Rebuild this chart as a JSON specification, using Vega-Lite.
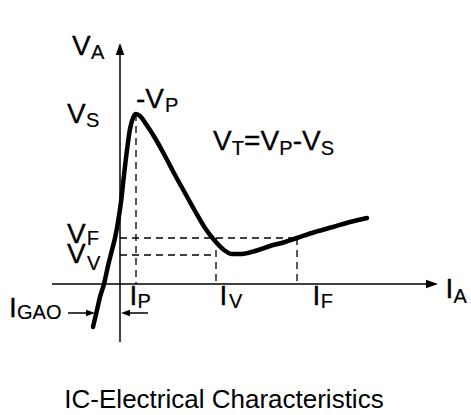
{
  "$schema": "https://vega.github.io/schema/vega-lite/v6.json",
  "width": 471,
  "height": 415,
  "autosize": {"type": "none"},
  "padding": 0,
  "background": "white",
  "config": {"view": {"stroke": null}, "text": {"font": "Liberation Sans", "color": "black"}},
  "datasets": {
    "curve": [
      {"x": -27, "y": -43}, {"x": -23, "y": -26}, {"x": -20, "y": -13}, {"x": -16, "y": 0},
      {"x": -12, "y": 18}, {"x": -8, "y": 34}, {"x": -5, "y": 46}, {"x": -2, "y": 62},
      {"x": 1, "y": 82}, {"x": 4, "y": 109}, {"x": 7, "y": 134}, {"x": 10, "y": 155},
      {"x": 13, "y": 166}, {"x": 16, "y": 170}, {"x": 20, "y": 168}, {"x": 26, "y": 160},
      {"x": 35, "y": 146}, {"x": 45, "y": 128}, {"x": 55, "y": 109}, {"x": 65, "y": 91},
      {"x": 75, "y": 73}, {"x": 85, "y": 56}, {"x": 95, "y": 43}, {"x": 104, "y": 34},
      {"x": 112, "y": 30}, {"x": 122, "y": 30}, {"x": 135, "y": 33}, {"x": 150, "y": 38},
      {"x": 165, "y": 42}, {"x": 177, "y": 46}, {"x": 195, "y": 52}, {"x": 213, "y": 57},
      {"x": 230, "y": 62}, {"x": 247, "y": 66}
    ],
    "axes": [
      {"x1": -68, "y1": 0, "x2": 316, "y2": 0},
      {"x1": 0, "y1": -58, "x2": 0, "y2": 236},
      {"x1": -52, "y1": -29, "x2": -28, "y2": -29},
      {"x1": 4, "y1": -29, "x2": 28, "y2": -29}
    ],
    "guides": [
      {"x1": 16, "y1": 170, "x2": 16, "y2": 0},
      {"x1": 0, "y1": 46, "x2": 177, "y2": 46},
      {"x1": 0, "y1": 29, "x2": 96, "y2": 29},
      {"x1": 96, "y1": 46, "x2": 96, "y2": 0},
      {"x1": 177, "y1": 46, "x2": 177, "y2": 0}
    ],
    "heads": [
      {"x": 0, "y": 235, "dir": "up", "kind": "axis"},
      {"x": 312, "y": 0, "dir": "right", "kind": "axis"},
      {"x": -29.5, "y": -29, "dir": "right", "kind": "small"},
      {"x": 5.5, "y": -29, "dir": "left", "kind": "small"}
    ],
    "labels": [
      {"x": -48, "y": 229, "text": "V"},
      {"x": -53, "y": 161, "text": "V"},
      {"x": 16, "y": 176, "text": "-V"},
      {"x": 93, "y": 134, "text": "V"},
      {"x": 124, "y": 134, "text": "="},
      {"x": 140.5, "y": 134, "text": "V"},
      {"x": 172.7, "y": 134, "text": "-V"},
      {"x": -111, "y": -33, "text": "I"},
      {"x": 9.4, "y": -21, "text": "I"},
      {"x": 99.4, "y": -21, "text": "I"},
      {"x": 192.4, "y": -21, "text": "I"},
      {"x": 325.4, "y": -14, "text": "I"}
    ],
    "stacked": [
      {"x": -53, "y": 41, "text": ["V", "V"]}
    ],
    "subs": [
      {"x": -29, "y": 225, "text": "A"},
      {"x": -34, "y": 157, "text": "S"},
      {"x": 45, "y": 172, "text": "P"},
      {"x": 111.8, "y": 129, "text": "T"},
      {"x": 159.3, "y": 129, "text": "P"},
      {"x": 200.8, "y": 129, "text": "S"},
      {"x": -33.3, "y": 39, "text": "F"},
      {"x": -33, "y": 14, "text": "V"},
      {"x": -103, "y": -35, "text": "GAO"},
      {"x": 17.4, "y": -24, "text": "P"},
      {"x": 109, "y": -24, "text": "V"},
      {"x": 200.8, "y": -24, "text": "F"},
      {"x": 333.5, "y": -19, "text": "A"}
    ],
    "caption": [
      {"x": 104, "y": -124, "text": "IC-Electrical Characteristics"}
    ]
  },
  "layer": [
    {
      "data": {"name": "axes"},
      "mark": {"type": "rule", "color": "black", "strokeWidth": 1.5},
      "encoding": {
        "x": {"field": "x1", "type": "quantitative", "scale": {"domain": [-120, 351], "nice": false, "zero": false}, "axis": null},
        "y": {"field": "y1", "type": "quantitative", "scale": {"domain": [-131, 284], "nice": false, "zero": false}, "axis": null},
        "x2": {"field": "x2"},
        "y2": {"field": "y2"}
      }
    },
    {
      "data": {"name": "guides"},
      "mark": {"type": "rule", "color": "black", "strokeWidth": 1.3, "strokeDash": [7, 5]},
      "encoding": {
        "x": {"field": "x1", "type": "quantitative", "scale": {"domain": [-120, 351], "nice": false, "zero": false}, "axis": null},
        "y": {"field": "y1", "type": "quantitative", "scale": {"domain": [-131, 284], "nice": false, "zero": false}, "axis": null},
        "x2": {"field": "x2"},
        "y2": {"field": "y2"}
      }
    },
    {
      "data": {"name": "curve"},
      "mark": {"type": "line", "color": "black", "strokeWidth": 4.5, "strokeCap": "round", "interpolate": "monotone"},
      "encoding": {
        "x": {"field": "x", "type": "quantitative", "scale": {"domain": [-120, 351], "nice": false, "zero": false}, "axis": null},
        "y": {"field": "y", "type": "quantitative", "scale": {"domain": [-131, 284], "nice": false, "zero": false}, "axis": null}
      }
    },
    {
      "data": {"name": "heads"},
      "transform": [{"filter": "datum.kind === 'axis'"}],
      "mark": {"type": "point", "filled": true, "color": "black", "opacity": 1, "size": 144, "strokeWidth": 0},
      "encoding": {
        "x": {"field": "x", "type": "quantitative", "scale": {"domain": [-120, 351], "nice": false, "zero": false}, "axis": null},
        "y": {"field": "y", "type": "quantitative", "scale": {"domain": [-131, 284], "nice": false, "zero": false}, "axis": null},
        "shape": {"field": "dir", "type": "nominal", "legend": null, "scale": {"domain": ["up", "right", "left"], "range": ["M0,-1L0.72,1L-0.72,1Z", "M1,0L-1,0.72L-1,-0.72Z", "M-1,0L1,0.72L1,-0.72Z"]}}
      }
    },
    {
      "data": {"name": "heads"},
      "transform": [{"filter": "datum.kind === 'small'"}],
      "mark": {"type": "point", "filled": true, "color": "black", "opacity": 1, "size": 81, "strokeWidth": 0},
      "encoding": {
        "x": {"field": "x", "type": "quantitative", "scale": {"domain": [-120, 351], "nice": false, "zero": false}, "axis": null},
        "y": {"field": "y", "type": "quantitative", "scale": {"domain": [-131, 284], "nice": false, "zero": false}, "axis": null},
        "shape": {"field": "dir", "type": "nominal", "legend": null, "scale": {"domain": ["up", "right", "left"], "range": ["M0,-1L0.72,1L-0.72,1Z", "M1,0L-1,0.72L-1,-0.72Z", "M-1,0L1,0.72L1,-0.72Z"]}}
      }
    },
    {
      "data": {"name": "labels"},
      "mark": {"type": "text", "align": "left", "baseline": "alphabetic", "fontSize": 28, "stroke": "black", "strokeWidth": 0.3},
      "encoding": {
        "x": {"field": "x", "type": "quantitative", "scale": {"domain": [-120, 351], "nice": false, "zero": false}, "axis": null},
        "y": {"field": "y", "type": "quantitative", "scale": {"domain": [-131, 284], "nice": false, "zero": false}, "axis": null},
        "text": {"field": "text"}
      }
    },
    {
      "data": {"name": "stacked"},
      "mark": {"type": "text", "align": "left", "baseline": "alphabetic", "fontSize": 28, "lineHeight": 20, "stroke": "black", "strokeWidth": 0.3},
      "encoding": {
        "x": {"field": "x", "type": "quantitative", "scale": {"domain": [-120, 351], "nice": false, "zero": false}, "axis": null},
        "y": {"field": "y", "type": "quantitative", "scale": {"domain": [-131, 284], "nice": false, "zero": false}, "axis": null},
        "text": {"field": "text"}
      }
    },
    {
      "data": {"name": "subs"},
      "mark": {"type": "text", "align": "left", "baseline": "alphabetic", "fontSize": 20, "stroke": "black", "strokeWidth": 0.2},
      "encoding": {
        "x": {"field": "x", "type": "quantitative", "scale": {"domain": [-120, 351], "nice": false, "zero": false}, "axis": null},
        "y": {"field": "y", "type": "quantitative", "scale": {"domain": [-131, 284], "nice": false, "zero": false}, "axis": null},
        "text": {"field": "text"}
      }
    },
    {
      "data": {"name": "caption"},
      "mark": {"type": "text", "align": "center", "baseline": "alphabetic", "fontSize": 26},
      "encoding": {
        "x": {"field": "x", "type": "quantitative", "scale": {"domain": [-120, 351], "nice": false, "zero": false}, "axis": null},
        "y": {"field": "y", "type": "quantitative", "scale": {"domain": [-131, 284], "nice": false, "zero": false}, "axis": null},
        "text": {"field": "text"}
      }
    }
  ]
}
